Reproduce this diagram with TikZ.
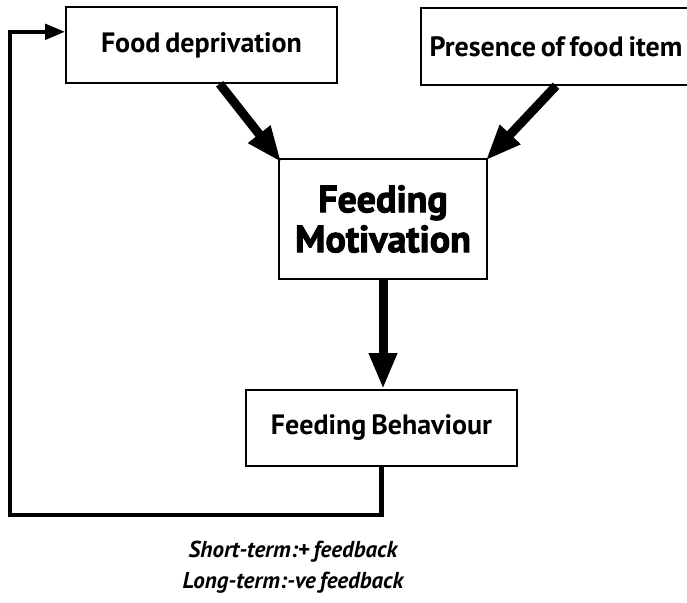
\documentclass[tikz,border=0pt]{standalone}
\usepackage{fontspec}
\setmainfont{PT Sans}[WordSpace=0.7]
\newfontfamily\heavyfont{PT Sans}[BoldFeatures={FakeBold=2.6}, WordSpace=0.7]
\usetikzlibrary{arrows.meta, positioning, calc}

\begin{document}
\begin{tikzpicture}[x=1pt, y=-1pt,
  box/.style={draw, line width=1.6pt, inner sep=0pt, font=\fontsize{28}{28}\selectfont\bfseries},
  bigarrow/.style={line width=9pt, -{Triangle[length=36pt, width=26pt]}},
  loopline/.style={line width=4.5pt, -{Triangle[length=20pt, width=15pt]}}]
  \useasboundingbox (0,0) rectangle (687,602);

  % Input boxes
  \node[box, minimum width=271pt, minimum height=76pt] (fooddep) at (201.5,45) {Food deprivation};
  \node[box, minimum width=270pt, minimum height=77pt] (foodpres) at (556,46.5) {Presence of food item};

  % Central motivation box
  \node[box, line width=2.6pt, minimum width=208pt, minimum height=120pt, align=center,
        font=\fontsize{38}{40}\selectfont\heavyfont\bfseries] (motiv) at (383,219) {Feeding\\Motivation};

  % Behaviour box
  \node[box, minimum width=271pt, minimum height=76pt] (behav) at (381.5,428) {Feeding Behaviour};

  % Arrows into and out of motivation
  \draw[bigarrow, shorten >=-6pt] (fooddep.-65) -- (motiv.north west);
  \draw[bigarrow, shorten >=-4pt] (foodpres.south) -- (motiv.north east);
  \draw[bigarrow] (motiv.south) -- (motiv.south |- behav.north);

  % Feedback loop back to deprivation
  \coordinate (loopcorner) at (10,515);
  \coordinate (fdin) at ($(fooddep.north west)!0.33!(fooddep.south west)$);
  \draw[loopline] (behav.south) |- (loopcorner) |- (fdin);

  % Feedback note
  \node[align=center, font=\fontsize{23}{31}\selectfont\bfseries\itshape] (note) at (293,567)
    {Short-term:+ feedback\\Long-term:-ve feedback};
\end{tikzpicture}
\end{document}
